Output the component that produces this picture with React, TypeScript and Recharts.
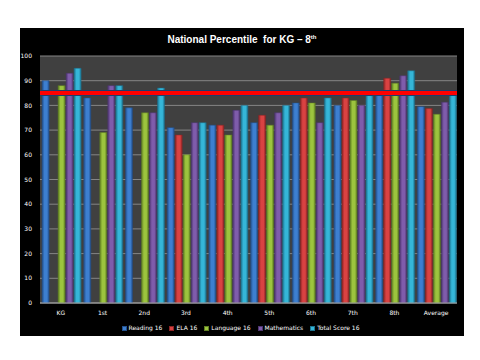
import { BarChart, Bar, XAxis, YAxis, CartesianGrid, Legend, ReferenceLine } from 'recharts';

const grades = ['KG', '1st', '2nd', '3rd', '4th', '5th', '6th', '7th', '8th', 'Average'];
const reading = [90, 83, 79, 71, 72, 73, 81, 80, 86, 79.5];
const ela = [null, null, null, 68, 72, 76, 83, 83, 91, 78.7];
const language = [88, 69, 77, 60, 68, 72, 81, 82, 89, 76.4];
const math = [93, 88, 77, 73, 78, 77, 73, 80, 92, 81.3];
const total = [95, 88, 87, 73, 80, 80, 83, 84, 94, 84.1];
const yTicks = [0, 10, 20, 30, 40, 50, 60, 70, 80, 90, 100];
const target = 85;

const series = [
  { key: 'reading', name: 'Reading 16', color: '#3d7fd0', dark: '#23508c' },
  { key: 'ela', name: 'ELA 16', color: '#d94242', dark: '#8e2424' },
  { key: 'language', name: 'Language 16', color: '#9cc43e', dark: '#5f7e22' },
  { key: 'math', name: 'Mathematics', color: '#7f5cab', dark: '#4d3670' },
  { key: 'total', name: 'Total Score 16', color: '#35b6d8', dark: '#1c7390' },
];

const data = grades.map((g, i) => ({
  grade: g,
  reading: reading[i],
  ela: ela[i],
  language: language[i],
  math: math[i],
  total: total[i],
}));

const tickStyle = { fontSize: 6, fill: '#ffffff', fontFamily: 'DejaVu Sans' };

// keep legend in series order, compact like the original
const renderLegend = () => (
  <div
    style={{
      display: 'flex',
      justifyContent: 'center',
      gap: 7,
      fontSize: 6,
      fontFamily: 'DejaVu Sans',
      color: '#ffffff',
      lineHeight: '8px',
      paddingLeft: 4,
    }}
  >
    {series.map((s) => (
      <span key={s.key} style={{ display: 'flex', alignItems: 'center' }}>
        <span style={{ display: 'inline-block', width: 3, height: 3, background: s.color, border: `0.5px solid ${s.dark}`, marginRight: 2 }} />
        {s.name}
      </span>
    ))}
  </div>
);

export default function App() {
  return (
    <div style={{ position: 'absolute', left: 0, top: 0, width: 480, height: 360, background: '#ffffff' }}>
      <div style={{ position: 'absolute', left: 20, top: 28, width: 444, height: 308, background: '#000000' }}>
        <div
          style={{
            position: 'absolute',
            left: 0,
            top: 6,
            width: 444,
            textAlign: 'center',
            color: '#ffffff',
            fontFamily: 'Liberation Sans',
            fontSize: 10,
            fontWeight: 'bold',
            whiteSpace: 'pre',
          }}
        >
          National Percentile  for KG – 8<sup style={{ fontSize: 6 }}>th</sup>
        </div>
        <BarChart
          width={444}
          height={308}
          data={data}
          margin={{ top: 28, right: 7, left: 0, bottom: 4 }}
          barCategoryGap="5%"
          barGap={1}
        >
          <defs>
            {series.map((s) => (
              <linearGradient key={s.key} id={`g-${s.key}`} x1="0" y1="0" x2="1" y2="0">
                <stop offset="0%" stopColor={s.dark} />
                <stop offset="35%" stopColor={s.color} />
                <stop offset="70%" stopColor={s.color} />
                <stop offset="100%" stopColor={s.dark} />
              </linearGradient>
            ))}
          </defs>
          <CartesianGrid vertical={false} stroke="#858585" fill="#404040" />
          <XAxis
            dataKey="grade"
            tick={tickStyle}
            tickLine={false}
            axisLine={{ stroke: '#a6a6a6' }}
            height={21}
          />
          <YAxis
            domain={[0, 100]}
            ticks={yTicks}
            tick={tickStyle}
            tickLine={false}
            axisLine={false}
            width={20}
            interval={0}
          />
          <Legend verticalAlign="bottom" content={renderLegend} />
          {series.map((s) => (
            <Bar
              key={s.key}
              dataKey={s.key}
              name={s.name}
              fill={`url(#g-${s.key})`}
              stroke={s.dark}
              strokeWidth={0.5}
              isAnimationActive={false}
            />
          ))}
          <ReferenceLine y={target} stroke="#1f3d6b" strokeWidth={6} />
          <ReferenceLine y={target} stroke="#ff0000" strokeWidth={4} />
        </BarChart>
      </div>
    </div>
  );
}
